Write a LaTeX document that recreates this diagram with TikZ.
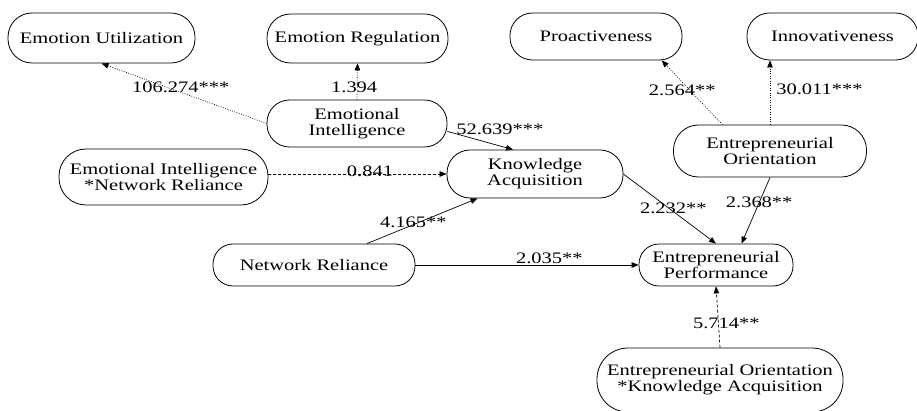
\documentclass[tikz,border=0pt]{standalone}
\usepackage{fontspec}
\setmainfont{Liberation Serif}[FakeStretch=1.28]
\usetikzlibrary{arrows.meta}

\begin{document}
\begin{tikzpicture}[x=1pt, y=-1pt,
  font=\fontsize{16}{16}\selectfont,
  construct/.style 2 args={draw, rectangle, minimum width=#1, minimum height=#2, rounded corners=#2/2-1pt, line width=0.8pt, align=center, inner sep=0pt},
  link/.style={line width=0.7pt, -{Triangle[length=7pt,width=5.5pt]}},
  dottedlink/.style={link, dash pattern=on 0.8pt off 1.6pt},
  dashedlink/.style={link, dash pattern=on 3pt off 2pt},
  coef/.style={inner sep=1pt}]

\useasboundingbox (0,0) rectangle (917,411);

% Dimensions of emotional intelligence
\node[construct={187pt}{50pt}] (eu) at (101.5,38) {Emotion Utilization};
\node[construct={181pt}{49pt}] (er) at (357.5,38.5) {Emotion Regulation};

% Dimensions of entrepreneurial orientation
\node[construct={172pt}{47pt}] (pro) at (596,36.5) {Proactiveness};
\node[construct={171pt}{47pt}] (inn) at (832.5,36.5) {Innovativeness};

% Main constructs
\node[construct={180pt}{47pt}] (ei) at (357,123.5) {Emotional\\Intelligence};
\node[construct={209pt}{56pt}] (einr) at (163.5,177) {Emotional Intelligence\\*Network Reliance};
\node[construct={176pt}{48pt}] (ka) at (535,174) {Knowledge\\Acquisition};
\node[construct={193pt}{52pt}] (eo) at (770,151) {Entrepreneurial\\Orientation};
\node[construct={202pt}{42pt}] (nr) at (314,265) {Network Reliance};
\node[construct={154pt}{42pt}] (ep) at (716,265) {Entrepreneurial\\Performance};
\node[construct={246pt}{64pt}] (eoka) at (720,380) {Entrepreneurial Orientation\\*Knowledge Acquisition};

% Loadings
\draw[dottedlink] (ei.west) -- (eu.south) node[coef, pos=0.52, yshift=5pt] {106.274***};
\draw[dottedlink] (ei.north) -- (er.south) node[coef, pos=0.35, xshift=-3pt] {1.394};
\draw[dottedlink] (eo.151) -- (pro.-20) node[coef, pos=0.53, xshift=-8pt] {2.564**};
\draw[dottedlink] (eo.north) -- (eo.north |- inn.south) node[coef, pos=0.55, anchor=west, xshift=5pt] {30.011***};

% Structural paths
\draw[link] (ei.-5) -- (ka.132) node[coef, pos=0.8, yshift=17pt] {52.639***};
\draw[dashedlink] (einr.east |- ka.west) -- (ka.west) node[coef, pos=0.57, yshift=3pt] {0.841};
\draw[link] (nr.22) -- (ka.203) node[coef, pos=0.42, yshift=2pt] {4.165**};
\draw[link] (nr.east) -- (ep.west) node[coef, pos=0.6, yshift=7pt] {2.035**};
\draw[link] (ka.east) -- (ep.north) node[coef, pos=0.54, yshift=3pt] {2.232**};
\draw[link] (eo.south) -- (ep.40) node[coef, pos=0.38] {2.368**};
\draw[dashedlink] (eoka.north) -- (ep.south) node[coef, pos=0.4, xshift=8pt] {5.714**};

\end{tikzpicture}
\end{document}
